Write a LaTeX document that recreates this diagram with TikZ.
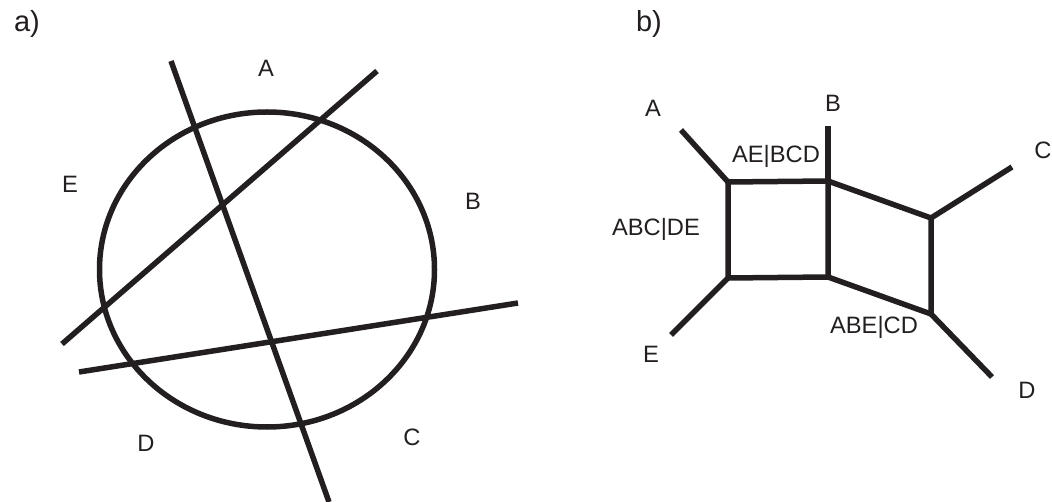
\documentclass[tikz,border=0pt]{standalone}
\usepackage{fontspec}
\setmainfont{Liberation Sans}
\definecolor{ink}{RGB}{35,31,32}
\begin{document}
\begin{tikzpicture}[x=1pt,y=-1pt,
  edge/.style={line width=5.5pt, draw=ink},
  lbl/.style={font=\fontsize{23.7}{26}\selectfont, inner sep=0pt, text=ink},
  panel/.style={font=\fontsize{29}{32}\selectfont, inner sep=0pt, text=ink}]
\useasboundingbox (0,0) rectangle (1052,502);
% panel a
\node[panel] (pa) at (27,24) {a)};
\draw[edge] (267,269.5) ellipse [x radius=167.5, y radius=157.5];
\coordinate (l1s) at (171,61);  \coordinate (l1e) at (329,502);
\coordinate (l2s) at (377,71);  \coordinate (l2e) at (62,344);
\coordinate (l3s) at (79,372);  \coordinate (l3e) at (518,303);
\draw[edge] (l1s) -- (l1e);
\draw[edge] (l2s) -- (l2e);
\draw[edge] (l3s) -- (l3e);
\node[lbl] (aA) at (266,68) {A};
\node[lbl] (aB) at (473,201) {B};
\node[lbl] (aC) at (412,437) {C};
\node[lbl] (aD) at (146,443) {D};
\node[lbl] (aE) at (70,184) {E};
% panel b
\node[panel] (pb) at (649,24) {b)};
\coordinate (TL) at (728,182);
\coordinate (TR) at (828,181);
\coordinate (BL) at (728,278);
\coordinate (BR) at (828,277);
\coordinate (NC) at (931,218);
\coordinate (ND) at (931,314);
\coordinate (eA) at (681,130);
\coordinate (eB) at (828,126);
\coordinate (eC) at (1012,167);
\coordinate (eD) at (992,377);
\coordinate (eE) at (671,335);
\draw[edge] (eA) -- (TL);
\draw[edge] (eB) -- (TR);
\draw[edge] (eC) -- (NC);
\draw[edge] (eD) -- (ND);
\draw[edge] (eE) -- (BL);
\draw[edge,line join=miter] (TL) -- (TR) -- (BR) -- (BL) -- cycle;
\draw[edge,line join=miter] (TR) -- (NC) -- (ND) -- (BR);
\node[lbl] (bA) at (653,108) {A};
\node[lbl] (bB) at (833,103) {B};
\node[lbl] (bC) at (1043,150) {C};
\node[lbl] (bD) at (1027,390) {D};
\node[lbl] (bE) at (651,354) {E};
\node[lbl] (s1) at (776,156) {AE|BCD};
\node[lbl] (s2) at (656,229) {ABC|DE};
\node[lbl] (s3) at (874,327) {ABE|CD};
\end{tikzpicture}
\end{document}
